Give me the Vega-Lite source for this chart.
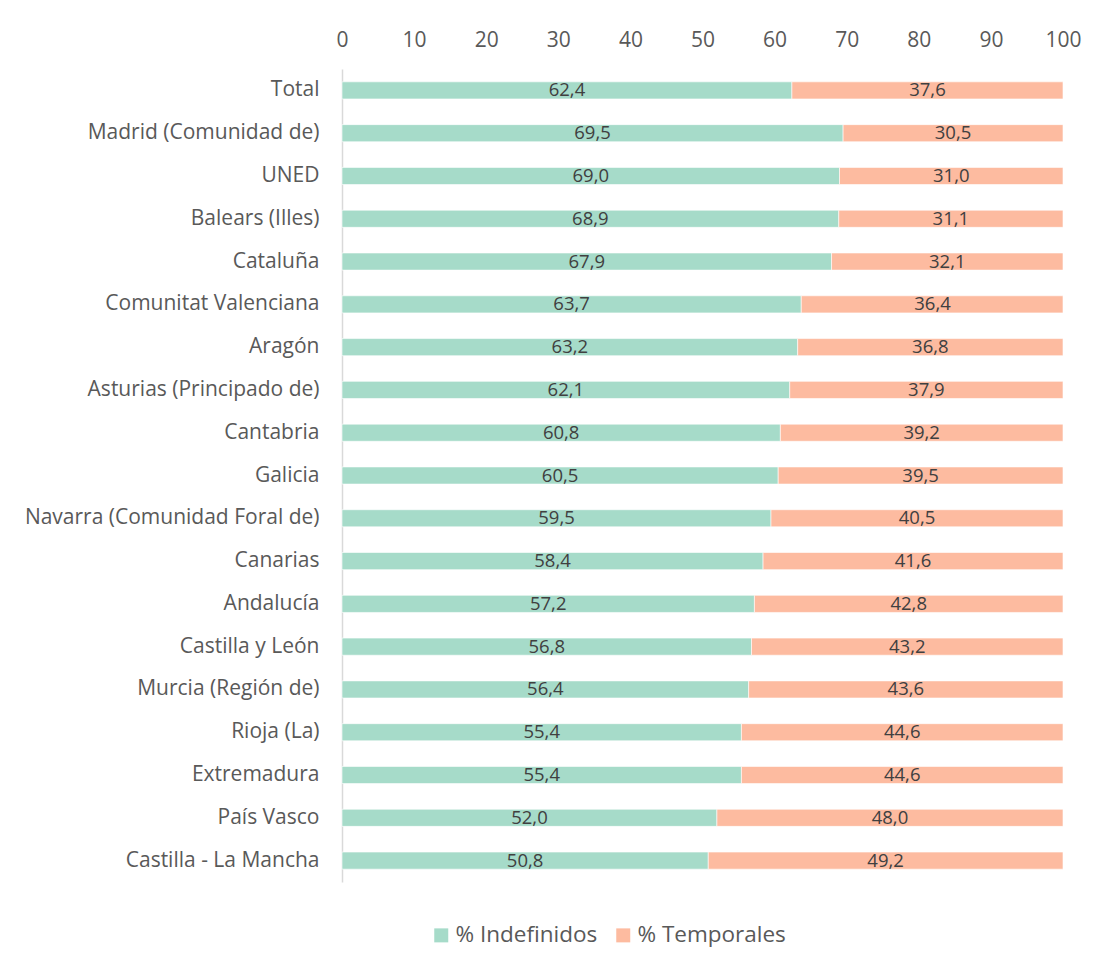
{
  "$schema": "https://vega.github.io/schema/vega-lite/v6.json",
  "autosize": {"type": "none"},
  "padding": {"left": 342, "top": 69, "right": 36, "bottom": 87},
  "width": 721,
  "height": 813,
  "background": "#ffffff",
  "config": {
    "view": {"stroke": null},
    "font": "Open Sans",
    "locale": {"number": {"decimal": ",", "thousands": ".", "grouping": [3], "currency": ["", " €"]}}
  },
  "data": {
    "values": [
      {"region": "Total", "type": "% Indefinidos", "value": 62.4},
      {"region": "Total", "type": "% Temporales", "value": 37.6},
      {"region": "Madrid (Comunidad de)", "type": "% Indefinidos", "value": 69.5},
      {"region": "Madrid (Comunidad de)", "type": "% Temporales", "value": 30.5},
      {"region": "UNED", "type": "% Indefinidos", "value": 69.0},
      {"region": "UNED", "type": "% Temporales", "value": 31.0},
      {"region": "Balears (Illes)", "type": "% Indefinidos", "value": 68.9},
      {"region": "Balears (Illes)", "type": "% Temporales", "value": 31.1},
      {"region": "Cataluña", "type": "% Indefinidos", "value": 67.9},
      {"region": "Cataluña", "type": "% Temporales", "value": 32.1},
      {"region": "Comunitat Valenciana", "type": "% Indefinidos", "value": 63.7},
      {"region": "Comunitat Valenciana", "type": "% Temporales", "value": 36.4},
      {"region": "Aragón", "type": "% Indefinidos", "value": 63.2},
      {"region": "Aragón", "type": "% Temporales", "value": 36.8},
      {"region": "Asturias (Principado de)", "type": "% Indefinidos", "value": 62.1},
      {"region": "Asturias (Principado de)", "type": "% Temporales", "value": 37.9},
      {"region": "Cantabria", "type": "% Indefinidos", "value": 60.8},
      {"region": "Cantabria", "type": "% Temporales", "value": 39.2},
      {"region": "Galicia", "type": "% Indefinidos", "value": 60.5},
      {"region": "Galicia", "type": "% Temporales", "value": 39.5},
      {"region": "Navarra (Comunidad Foral de)", "type": "% Indefinidos", "value": 59.5},
      {"region": "Navarra (Comunidad Foral de)", "type": "% Temporales", "value": 40.5},
      {"region": "Canarias", "type": "% Indefinidos", "value": 58.4},
      {"region": "Canarias", "type": "% Temporales", "value": 41.6},
      {"region": "Andalucía", "type": "% Indefinidos", "value": 57.2},
      {"region": "Andalucía", "type": "% Temporales", "value": 42.8},
      {"region": "Castilla y León", "type": "% Indefinidos", "value": 56.8},
      {"region": "Castilla y León", "type": "% Temporales", "value": 43.2},
      {"region": "Murcia (Región de)", "type": "% Indefinidos", "value": 56.4},
      {"region": "Murcia (Región de)", "type": "% Temporales", "value": 43.6},
      {"region": "Rioja (La)", "type": "% Indefinidos", "value": 55.4},
      {"region": "Rioja (La)", "type": "% Temporales", "value": 44.6},
      {"region": "Extremadura", "type": "% Indefinidos", "value": 55.4},
      {"region": "Extremadura", "type": "% Temporales", "value": 44.6},
      {"region": "País Vasco", "type": "% Indefinidos", "value": 52.0},
      {"region": "País Vasco", "type": "% Temporales", "value": 48.0},
      {"region": "Castilla - La Mancha", "type": "% Indefinidos", "value": 50.8},
      {"region": "Castilla - La Mancha", "type": "% Temporales", "value": 49.2}
    ]
  },
  "transform": [
    {"stack": "value", "groupby": ["region"], "sort": [{"field": "type", "order": "ascending"}], "as": ["v0", "v1"]}
  ],
  "encoding": {
    "y": {
      "field": "region",
      "type": "nominal",
      "sort": ["Total", "Madrid (Comunidad de)", "UNED", "Balears (Illes)", "Cataluña", "Comunitat Valenciana", "Aragón", "Asturias (Principado de)", "Cantabria", "Galicia", "Navarra (Comunidad Foral de)", "Canarias", "Andalucía", "Castilla y León", "Murcia (Región de)", "Rioja (La)", "Extremadura", "País Vasco", "Castilla - La Mancha"],
      "scale": {"paddingInner": 0.6, "paddingOuter": 0.3},
      "axis": {
        "title": null,
        "ticks": false,
        "domainColor": "#d9d9d9",
        "domainWidth": 1.5,
        "labelFontSize": 21,
        "labelColor": "#595959",
        "labelPadding": 23,
        "labelLimit": 0,
        "labelFont": "Open Sans"
      }
    }
  },
  "layer": [
    {
      "mark": {"type": "bar", "stroke": "#ffffff", "strokeWidth": 0.6},
      "encoding": {
        "x": {
          "field": "v0",
          "type": "quantitative",
          "scale": {"domain": [0, 100], "nice": false, "clamp": true},
          "axis": {
            "orient": "top",
            "title": null,
            "grid": false,
            "domain": false,
            "ticks": false,
            "labelFlush": false,
            "values": [0, 10, 20, 30, 40, 50, 60, 70, 80, 90, 100],
            "labelFontSize": 21,
            "labelColor": "#595959",
            "labelPadding": 19,
            "labelFont": "Open Sans"
          }
        },
        "x2": {"field": "v1"},
        "color": {
          "field": "type",
          "type": "nominal",
          "scale": {"domain": ["% Indefinidos", "% Temporales"], "range": ["#a6dbc9", "#fdbba0"]},
          "legend": {
            "title": null,
            "orient": "none",
            "direction": "horizontal",
            "legendX": 88,
            "legendY": 855,
            "symbolType": "square",
            "symbolSize": 196,
            "symbolStrokeWidth": 0,
            "labelFontSize": 22.5,
            "labelColor": "#595959",
            "labelOffset": 3,
            "columnPadding": 14,
            "labelFont": "Open Sans"
          }
        }
      }
    },
    {
      "transform": [
        {"fold": ["v0", "v1"], "as": ["edge", "pos"]}
      ],
      "mark": {"type": "text", "fontSize": 18.5, "color": "#404040", "font": "Open Sans", "baseline": "middle", "align": "center"},
      "encoding": {
        "x": {"aggregate": "mean", "field": "pos", "type": "quantitative"},
        "detail": {"field": "type", "type": "nominal"},
        "text": {"aggregate": "max", "field": "value", "type": "quantitative", "format": ".1f"}
      }
    }
  ]
}
